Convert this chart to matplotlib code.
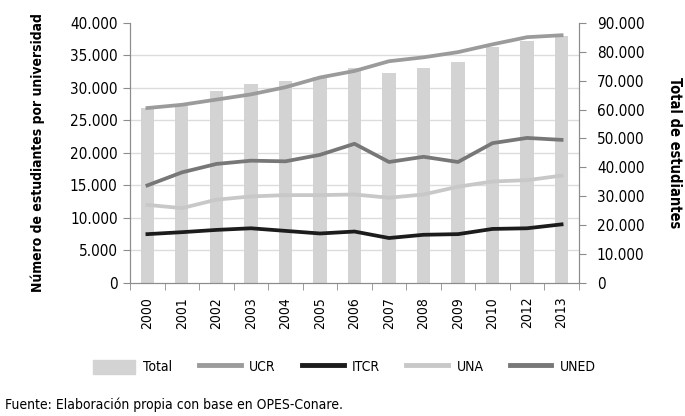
import numpy as np
import matplotlib
matplotlib.use('Agg')
from matplotlib import pyplot as plt
from matplotlib.ticker import FuncFormatter
from matplotlib.patches import Patch
from matplotlib.lines import Line2D
plt.rcParams['font.family'] = ['DejaVu Sans']
plt.rcParams['font.stretch'] = 'condensed'

# data
years = ['2000', '2001', '2002', '2003', '2004', '2005', '2006',
         '2007', '2008', '2009', '2010', '2012', '2013']
total = [60600, 61300, 66500, 68800, 69900, 71100, 74500,
         72500, 74500, 76300, 81500, 83800, 85300]
ucr = [26900, 27400, 28200, 29000, 30100, 31600, 32600,
       34100, 34700, 35500, 36700, 37800, 38100]
itcr = [7500, 7800, 8150, 8400, 8000, 7600, 7900,
        6900, 7400, 7500, 8300, 8400, 9000]
una = [12000, 11500, 12800, 13300, 13500, 13500, 13600,
       13100, 13600, 14800, 15600, 15800, 16500]
uned = [15000, 17000, 18300, 18800, 18700, 19700, 21400,
        18600, 19400, 18600, 21500, 22300, 22000]

c_total = '#d3d3d3'
c_ucr = '#9b9b9b'
c_itcr = '#1c1c1c'
c_una = '#c8c8c8'
c_uned = '#777777'
spine_c = '#8c8c8c'
fsize = 10

thousands = FuncFormatter(lambda v, p: f'{int(v):,}'.replace(',', '.'))

fig = plt.figure(figsize=(6.85, 4.16), dpi=100)
ax1 = fig.add_axes([0.19, 0.32, 0.655, 0.625])
ax2 = ax1.twinx()
x = np.arange(len(years))

# bars on the right axis, behind the lines
ax2.bar(x, total, width=0.38, color=c_total, zorder=2)
ax2.set_ylim(0, 90000)
ax2.set_yticks(np.arange(0, 90001, 10000))
ax2.yaxis.set_major_formatter(thousands)
# grid follows the left axis ticks, drawn on ax2 so it sits behind the bars
ax2.set_yticks(np.arange(0, 40001, 5000) * 90000 / 40000, minor=True)
ax2.grid(which='minor', axis='y', color='#dcdcdc', linewidth=1, zorder=0)
ax2.tick_params(which='minor', length=0)
ax2.tick_params(axis='y', which='major', pad=8)
ax2.set_ylabel('Total de estudiantes', fontsize=fsize + 0.5, fontweight='bold',
               rotation=270, labelpad=27)

ax1.set_zorder(ax2.get_zorder() + 1)
ax1.patch.set_visible(False)
lw = 2.7
ax1.plot(x, ucr, color=c_ucr, lw=lw)
ax1.plot(x, itcr, color=c_itcr, lw=lw)
ax1.plot(x, una, color=c_una, lw=lw)
ax1.plot(x, uned, color=c_uned, lw=lw)
ax1.set_ylim(0, 40000)
ax1.set_yticks(np.arange(0, 40001, 5000))
ax1.yaxis.set_major_formatter(thousands)
ax1.set_xlim(-0.5, len(years) - 0.5)
ax1.set_xticks(x)
ax1.set_xticklabels(years, rotation=90)
ax1.set_xticks(np.arange(-0.5, len(years), 1), minor=True)
ax1.tick_params(axis='x', which='major', length=0, pad=10)
ax1.tick_params(axis='x', which='minor', length=5, color=spine_c, direction='out')
ax1.tick_params(axis='y', which='major', pad=4)
ax1.set_ylabel('Número de estudiantes por universidad', fontsize=fsize,
               fontweight='bold', labelpad=18)

for ax in (ax1, ax2):
    ax.tick_params(axis='y', which='major', labelsize=fsize + 1, length=5,
                   color=spine_c, direction='out')
    ax.tick_params(axis='x', labelsize=fsize)
    ax.spines['top'].set_visible(False)
    for s in ('left', 'right', 'bottom'):
        ax.spines[s].set_color(spine_c)

handles = [Patch(color=c_total, label='Total'),
           Line2D([], [], color=c_ucr, lw=3.5, label='UCR'),
           Line2D([], [], color=c_itcr, lw=3.5, label='ITCR'),
           Line2D([], [], color=c_una, lw=3.5, label='UNA'),
           Line2D([], [], color=c_uned, lw=3.5, label='UNED')]
fig.legend(handles=handles, loc='center', bbox_to_anchor=(0.503, 0.118), ncol=5,
           frameon=False, fontsize=fsize, handlelength=3.0, handleheight=1.2,
           columnspacing=1.9, handletextpad=0.6)

fig.text(0.008, 0.027, 'Fuente: Elaboración propia con base en OPES-Conare.',
         fontsize=fsize, ha='left', va='center')

fig.savefig('out.png', dpi=100)
